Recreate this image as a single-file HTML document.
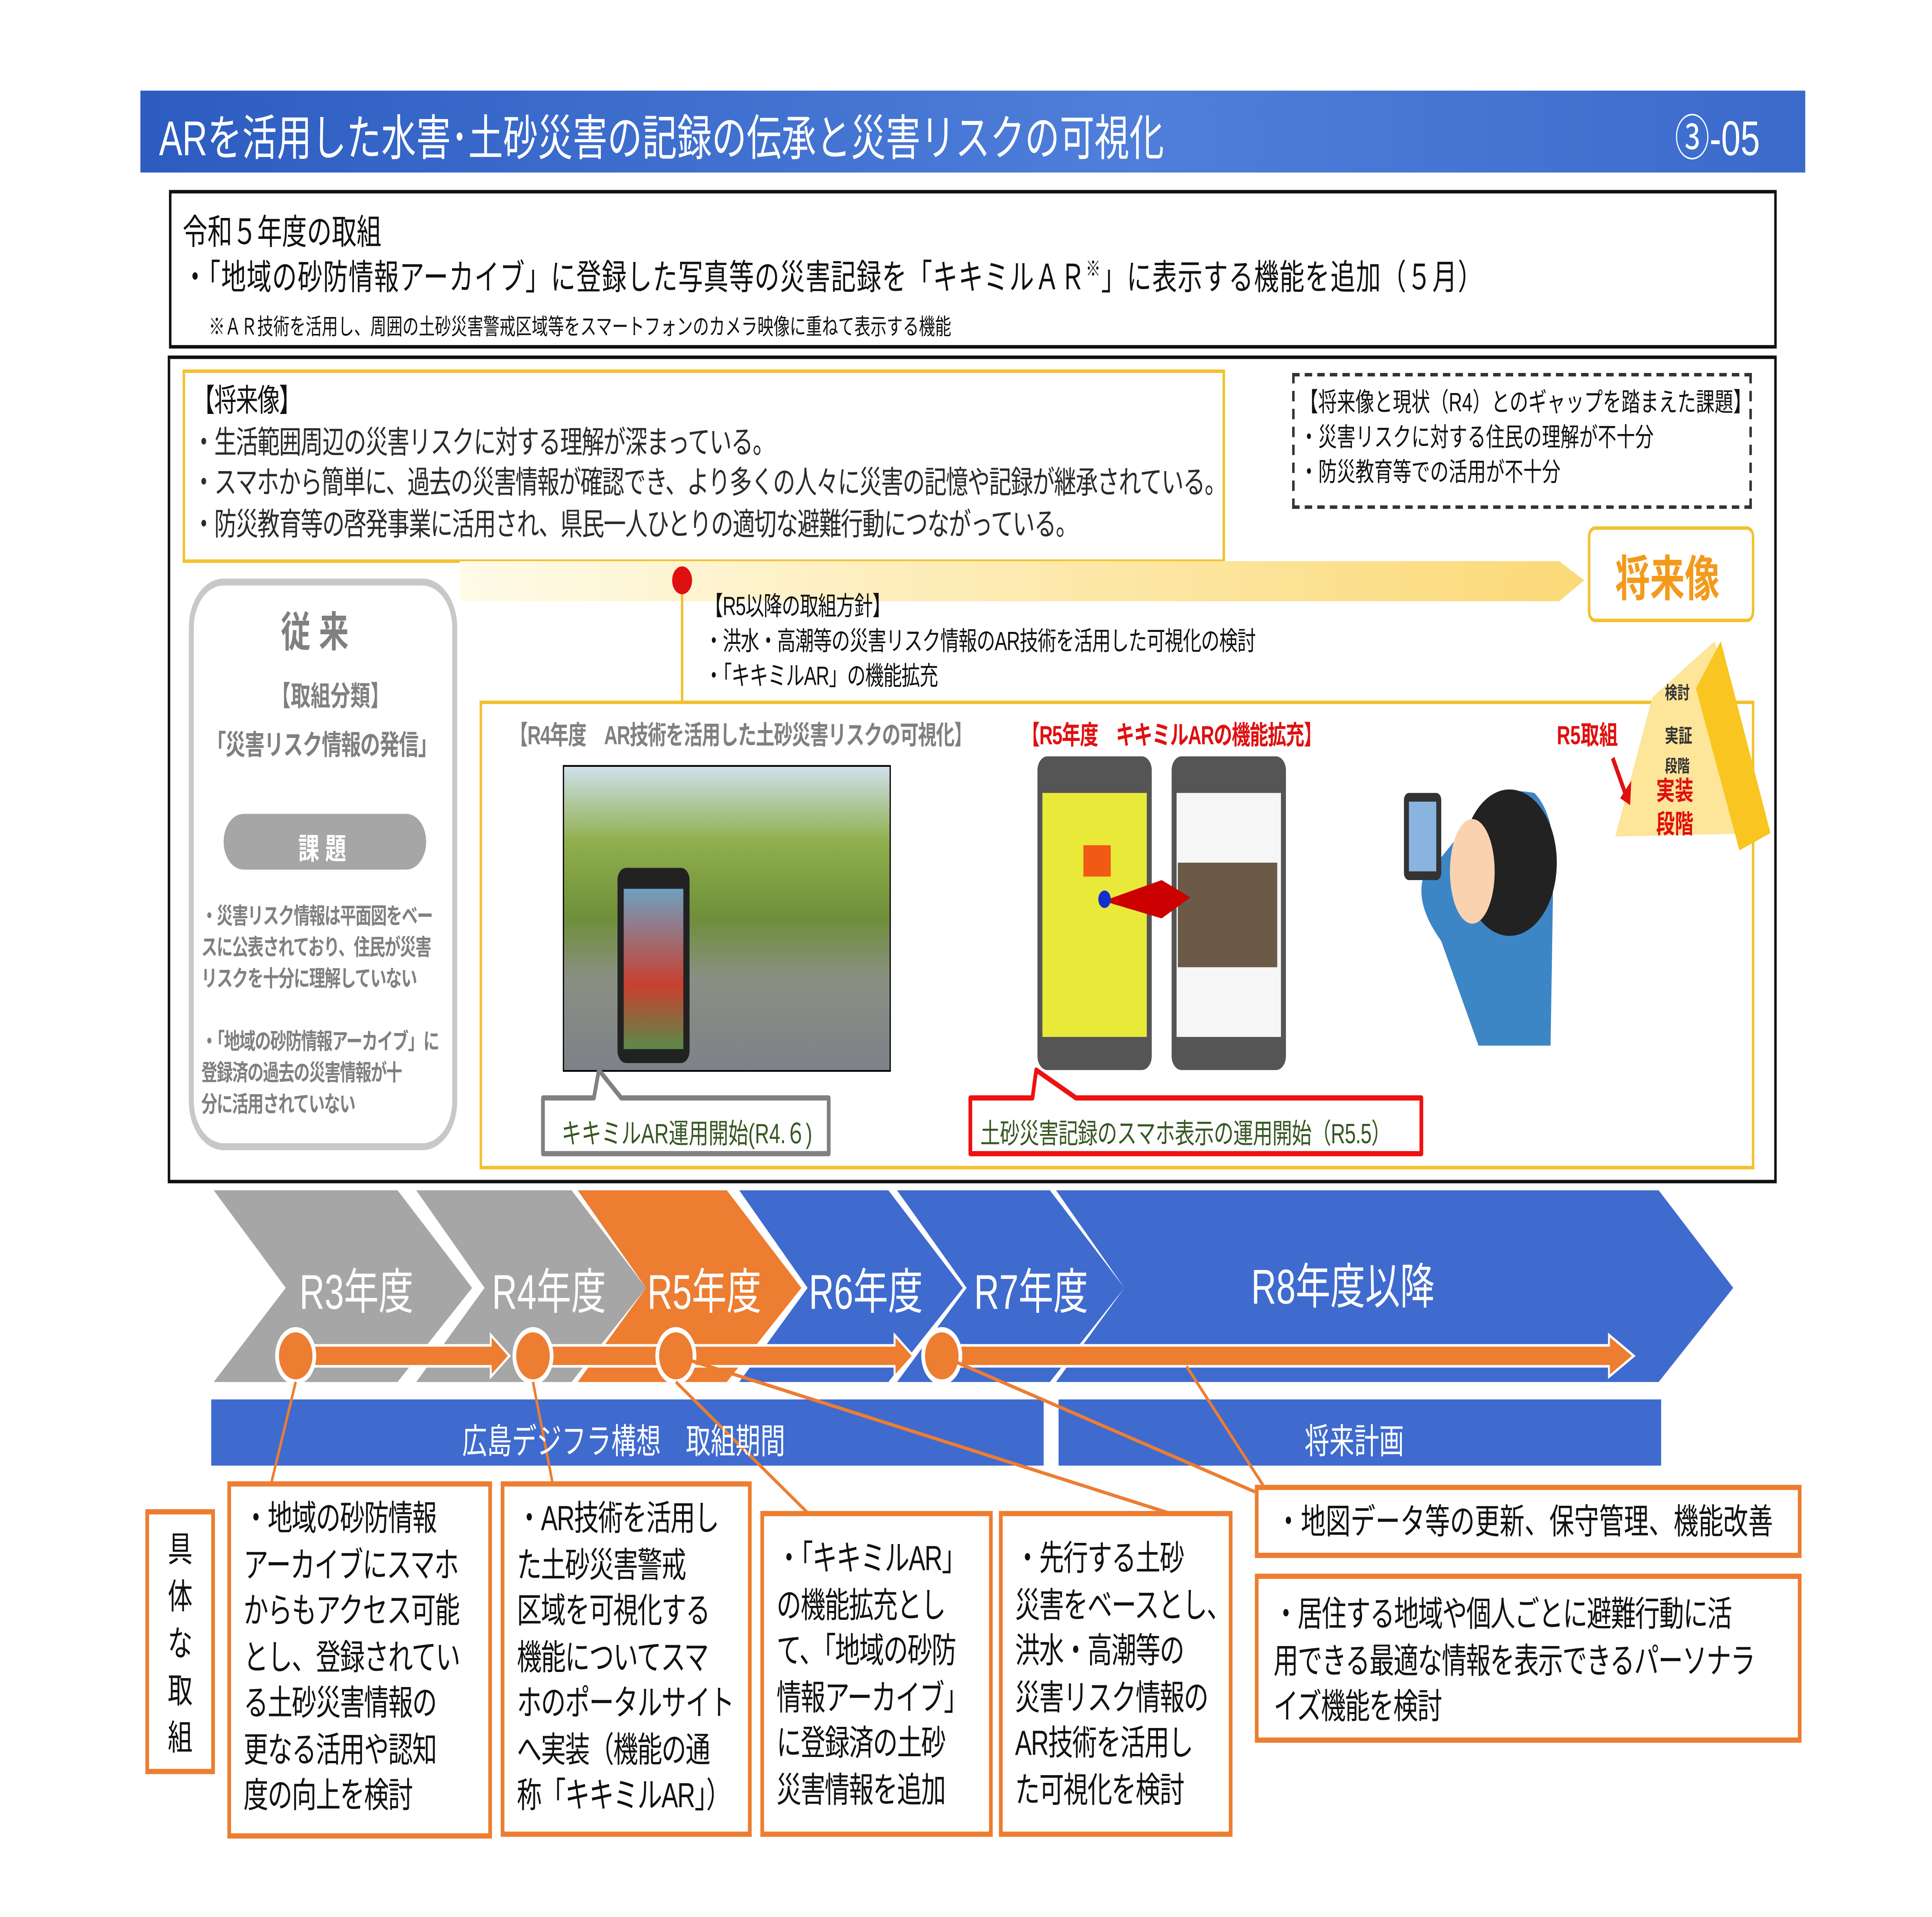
<!DOCTYPE html>
<html><head><meta charset="utf-8">
<style>
html,body{margin:0;padding:0;background:#fff;width:100vw;height:100vh;overflow:hidden;}
#root{position:fixed;left:0;top:0;width:100vw;height:100vh;display:block;}
#s{position:relative;width:1555px;height:1100px;font-family:"Liberation Sans","Noto Sans CJK JP",sans-serif;color:#111;background:#fff;}
.a{position:absolute;}
.t{position:absolute;white-space:nowrap;}
.ob{position:absolute;border:3px solid #ed7d31;background:#fff;box-sizing:border-box;font-size:20px;line-height:26.5px;padding:6px 10px;white-space:nowrap;letter-spacing:-0.6px;}
</style></head><body>
<svg id="root" viewBox="0 0 1555 1100" preserveAspectRatio="none" xmlns="http://www.w3.org/2000/svg">
<foreignObject x="0" y="0" width="1555" height="1100">
<div xmlns="http://www.w3.org/1999/xhtml" id="s">
<div class="a" style="left:113px;top:52px;width:1340px;height:47px;background:linear-gradient(90deg,#2c5cc0,#4f7fda 60%,#3b6acb);"></div>
<div class="t" style="left:128px;top:58px;font-size:28px;color:#fff;">ARを活用した水害･土砂災害の記録の伝承と災害リスクの可視化</div>
<div class="t" style="left:1348px;top:58px;font-size:28px;color:#fff;">③-05</div>
<div class="a" style="left:136px;top:109px;width:1290px;height:87px;border:2px solid #111;"></div>
<div class="t" style="left:147px;top:117px;font-size:20px;">令和５年度の取組</div>
<div class="t" style="left:147px;top:143px;font-size:20px;letter-spacing:0.5px;">・「地域の砂防情報アーカイブ」に登録した写真等の災害記録を「キキミルＡＲ<sup style="font-size:12px">※</sup>」に表示する機能を追加（５月）</div>
<div class="t" style="left:168px;top:177px;font-size:13px;">※ＡＲ技術を活用し、周囲の土砂災害警戒区域等をスマートフォンのカメラ映像に重ねて表示する機能</div>
<div class="a" style="left:135px;top:204px;width:1291px;height:471px;border:2px solid #111;"></div>
<div class="a" style="left:147px;top:212px;width:835px;height:107px;border:2px solid #f2c12e;"></div>
<div class="t" style="left:155px;top:219px;font-size:18px;line-height:23.5px;letter-spacing:-0.6px;">【将来像】<br/><span style="color:#2b2b2b">・生活範囲周辺の災害リスクに対する理解が深まっている。<br/>・スマホから簡単に、過去の災害情報が確認でき、より多くの人々に災害の記憶や記録が継承されている。<br/>・防災教育等の啓発事業に活用され、県民一人ひとりの適切な避難行動につながっている。</span></div>
<div class="a" style="left:1040px;top:214px;width:366px;height:74px;border:2px dashed #333;"></div>
<div class="t" style="left:1046px;top:222px;font-size:15px;line-height:20px;">【将来像と現状（R4）とのギャップを踏まえた課題】<br/>・災害リスクに対する住民の理解が不十分<br/>・防災教育等での活用が不十分</div>
<svg class="a" style="left:0;top:0" width="1555" height="1100">
<defs><linearGradient id="yg" x1="0" x2="1"><stop offset="0" stop-color="#fffbe8"/><stop offset="1" stop-color="#fbd977"/></linearGradient></defs>
<polygon points="370,322 1255,322 1275,333 1255,345 370,345" fill="url(#yg)"/>
<line x1="549" y1="333" x2="549" y2="402" stroke="#f2c12e" stroke-width="2"/>
<circle cx="549" cy="333" r="8" fill="#e01010"/>
</svg>
<div class="a" style="left:1278px;top:302px;width:130px;height:51px;border:2px solid #f2c12e;border-radius:6px;background:#fff;"></div>
<div class="t" style="left:1300px;top:311px;font-size:28px;color:#f39a1c;font-weight:bold;">将来像</div>
<div class="t" style="left:567px;top:339px;font-size:15px;line-height:20px;letter-spacing:-0.4px;">【R5以降の取組方針】<br/>・洪水・高潮等の災害リスク情報のAR技術を活用した可視化の検討<br/>・「キキミルAR」の機能拡充</div>
<div class="a" style="left:152px;top:332px;width:216px;height:328px;border:4px solid #c8c8c8;border-radius:28px;box-sizing:border-box;"></div>
<div class="t" style="left:226px;top:343px;font-size:24px;color:#808080;font-weight:bold;">従 来</div>
<div class="t" style="left:218px;top:386px;font-size:16px;color:#808080;font-weight:bold;">【取組分類】</div>
<div class="t" style="left:166px;top:414px;font-size:16px;color:#808080;font-weight:bold;letter-spacing:-0.5px;">「災害リスク情報の発信」</div>
<div class="a" style="left:180px;top:467px;width:163px;height:32px;background:#a6a6a6;border-radius:16px;"></div>
<div class="t" style="left:240px;top:473px;font-size:17px;color:#fff;font-weight:bold;">課 題</div>
<div class="t" style="left:162px;top:517px;font-size:13px;line-height:18px;color:#808080;font-weight:bold;letter-spacing:-0.6px;">・災害リスク情報は平面図をベー<br/>スに公表されており、住民が災害<br/>リスクを十分に理解していない<br/><br/>・「地域の砂防情報アーカイブ」に<br/>登録済の過去の災害情報が十<br/>分に活用されていない</div>
<div class="a" style="left:386px;top:402px;width:1022px;height:265px;border:2px solid #f2c12e;"></div>
<div class="t" style="left:410px;top:411px;font-size:15px;color:#808080;font-weight:bold;letter-spacing:-0.5px;">【R4年度　AR技術を活用した土砂災害リスクの可視化】</div>
<div class="t" style="left:822px;top:411px;font-size:15px;color:#e01010;font-weight:bold;letter-spacing:-0.5px;">【R5年度　キキミルARの機能拡充】</div>
<div class="t" style="left:1253px;top:411px;font-size:15px;color:#e01010;font-weight:bold;">R5取組</div>
<div class="a" style="left:453px;top:439px;width:262px;height:174px;border:1px solid #000;background:linear-gradient(180deg,#cfe0ea 0%,#8fae4c 25%,#6f8f3a 50%,#8a8f84 70%,#7e8188 100%);"></div>
<div class="a" style="left:497px;top:498px;width:58px;height:112px;background:#222;border-radius:7px;"></div>
<div class="a" style="left:502px;top:510px;width:48px;height:92px;background:linear-gradient(180deg,#6fa0c0,#c84030 60%,#5b8a4a);"></div>
<div class="a" style="left:835px;top:434px;width:92px;height:180px;background:#555;border-radius:8px;"></div>
<div class="a" style="left:839px;top:455px;width:84px;height:140px;background:#e9e93a;"></div>
<div class="a" style="left:872px;top:485px;width:22px;height:18px;background:#f05a14;"></div>
<div class="a" style="left:943px;top:434px;width:92px;height:180px;background:#555;border-radius:8px;"></div>
<div class="a" style="left:947px;top:455px;width:84px;height:140px;background:#f6f6f6;"></div>
<div class="a" style="left:948px;top:495px;width:80px;height:60px;background:#6b5a48;"></div>
<svg class="a" style="left:0;top:0" width="1555" height="1100">
<polygon points="888,517 935,505 958,515 935,527" fill="#cc0000"/>
<circle cx="889" cy="516" r="5" fill="#1030d0"/>
<path d="M1185,470 Q1200,450 1235,455 Q1255,470 1250,510 L1248,600 L1190,600 L1160,540 Q1140,520 1145,505 Z" fill="#3d86c6"/>
<ellipse cx="1215" cy="495" rx="38" ry="42" fill="#222"/>
<ellipse cx="1185" cy="500" rx="18" ry="30" fill="#fad2b0"/>
<rect x="1130" y="455" width="30" height="50" rx="4" fill="#333"/>
<rect x="1134" y="460" width="22" height="40" fill="#8ab4e0"/>
<polygon points="1380,368 1425,478 1300,480 1330,400" fill="#fde59a"/>
<polygon points="1385,368 1425,478 1400,488 1365,395" fill="#f9c520"/>
<text x="1340" y="401" font-size="10" fill="#333" font-weight="bold">検討</text>
<text x="1340" y="426" font-size="11" fill="#333" font-weight="bold">実証</text>
<text x="1340" y="443" font-size="10" fill="#333" font-weight="bold">段階</text>
<text x="1333" y="459" font-size="15" fill="#e01010" font-weight="bold">実装</text>
<text x="1333" y="478" font-size="15" fill="#e01010" font-weight="bold">段階</text>
<line x1="1298" y1="435" x2="1308" y2="455" stroke="#e01010" stroke-width="3"/>
<polygon points="1304,458 1313,448 1312,462" fill="#e01010"/>
<path d="M437,630 L478,630 L482,614 L500,630 L667,630 L667,662 L437,662 Z" fill="#fff" stroke="#808080" stroke-width="3" stroke-linejoin="round"/>
<path d="M781,630 L831,630 L834,614 L866,630 L1144,630 L1144,662 L781,662 Z" fill="#fff" stroke="#ee1111" stroke-width="3" stroke-linejoin="round"/>
<polygon points="172,683 320,683 380,739 320,793 172,793 230,739" fill="#a6a6a6"/>
<polygon points="335,683 460,683 520,739 460,793 335,793 390,739" fill="#a6a6a6"/>
<polygon points="465,683 585,683 645,739 585,793 465,793 520,739" fill="#ed7d31"/>
<polygon points="595,683 715,683 775,739 715,793 595,793 650,739" fill="#3f6bcf"/>
<polygon points="722,683 845,683 905,739 845,793 722,793 778,739" fill="#3f6bcf"/>
<polygon points="850,683 1335,683 1395,739 1335,793 850,793 905,739" fill="#3f6bcf"/>
<rect x="170" y="803" width="670" height="38" fill="#3f6bcf"/>
<rect x="852" y="803" width="485" height="38" fill="#3f6bcf"/>
<g fill="#ed7d31" stroke="#fff" stroke-width="1.5">
<polygon points="250,772 395,772 395,766 410,778 395,790 395,784 250,784"/>
<polygon points="440,772 720,772 720,766 735,778 720,790 720,784 440,784"/>
<polygon points="770,772 1295,772 1295,766 1315,778 1295,790 1295,784 770,784"/>
</g>
<g fill="#ed7d31" stroke="#fff" stroke-width="3">
<circle cx="238" cy="778" r="15"/><circle cx="429" cy="778" r="15"/><circle cx="544" cy="778" r="15"/><circle cx="758" cy="778" r="15"/>
</g>
<g stroke="#ed7d31" stroke-width="2" fill="none">
<line x1="238" y1="793" x2="218" y2="852"/>
<line x1="429" y1="793" x2="445" y2="852"/>
<line x1="544" y1="793" x2="650" y2="868"/>
<line x1="544" y1="778" x2="940" y2="868"/>
<line x1="758" y1="778" x2="1010" y2="856"/>
<line x1="955" y1="784" x2="1020" y2="856"/>
</g>
</svg>
<div class="t" style="left:452px;top:637px;font-size:16px;color:#375623;">キキミルAR運用開始(R4.６)</div>
<div class="t" style="left:789px;top:637px;font-size:16px;color:#375623;letter-spacing:-0.3px;">土砂災害記録のスマホ表示の運用開始（R5.5）</div>
<div class="t" style="left:241px;top:720px;font-size:28px;color:#fff;">R3年度</div>
<div class="t" style="left:396px;top:720px;font-size:28px;color:#fff;">R4年度</div>
<div class="t" style="left:521px;top:720px;font-size:28px;color:#fff;">R5年度</div>
<div class="t" style="left:651px;top:720px;font-size:28px;color:#fff;">R6年度</div>
<div class="t" style="left:784px;top:720px;font-size:28px;color:#fff;">R7年度</div>
<div class="t" style="left:1007px;top:717px;font-size:28px;color:#fff;">R8年度以降</div>
<div class="t" style="left:372px;top:811px;font-size:20px;color:#fff;">広島デジフラ構想　取組期間</div>
<div class="t" style="left:1050px;top:811px;font-size:20px;color:#fff;">将来計画</div>
<div class="ob" style="left:117px;top:866px;width:56px;height:152px;padding:8px 15px;line-height:27px;font-size:20px;">具<br/>体<br/>な<br/>取<br/>組</div>
<div class="ob" style="left:183px;top:850px;width:213px;height:205px;padding-left:10px;">・地域の砂防情報<br/>アーカイブにスマホ<br/>からもアクセス可能<br/>とし、登録されてい<br/>る土砂災害情報の<br/>更なる活用や認知<br/>度の向上を検討</div>
<div class="ob" style="left:403px;top:850px;width:202px;height:204px;padding-left:10px;">・AR技術を活用し<br/>た土砂災害警戒<br/>区域を可視化する<br/>機能についてスマ<br/>ホのポータルサイト<br/>へ実装（機能の通<br/>称「キキミルAR」）</div>
<div class="ob" style="left:612px;top:867px;width:187px;height:187px;padding-top:12px;">・「キキミルAR」<br/>の機能拡充とし<br/>て、「地域の砂防<br/>情報アーカイブ」<br/>に登録済の土砂<br/>災害情報を追加</div>
<div class="ob" style="left:804px;top:867px;width:188px;height:187px;padding-top:12px;">・先行する土砂<br/>災害をベースとし、<br/>洪水・高潮等の<br/>災害リスク情報の<br/>AR技術を活用し<br/>た可視化を検討</div>
<div class="ob" style="left:1010px;top:852px;width:440px;height:42px;padding:6px 14px;letter-spacing:0;">・地図データ等の更新、保守管理、機能改善</div>
<div class="ob" style="left:1010px;top:903px;width:440px;height:97px;padding:8px 12px;">・居住する地域や個人ごとに避難行動に活<br/>用できる最適な情報を表示できるパーソナラ<br/>イズ機能を検討</div>
</div>
</foreignObject>
</svg>
</body></html>
